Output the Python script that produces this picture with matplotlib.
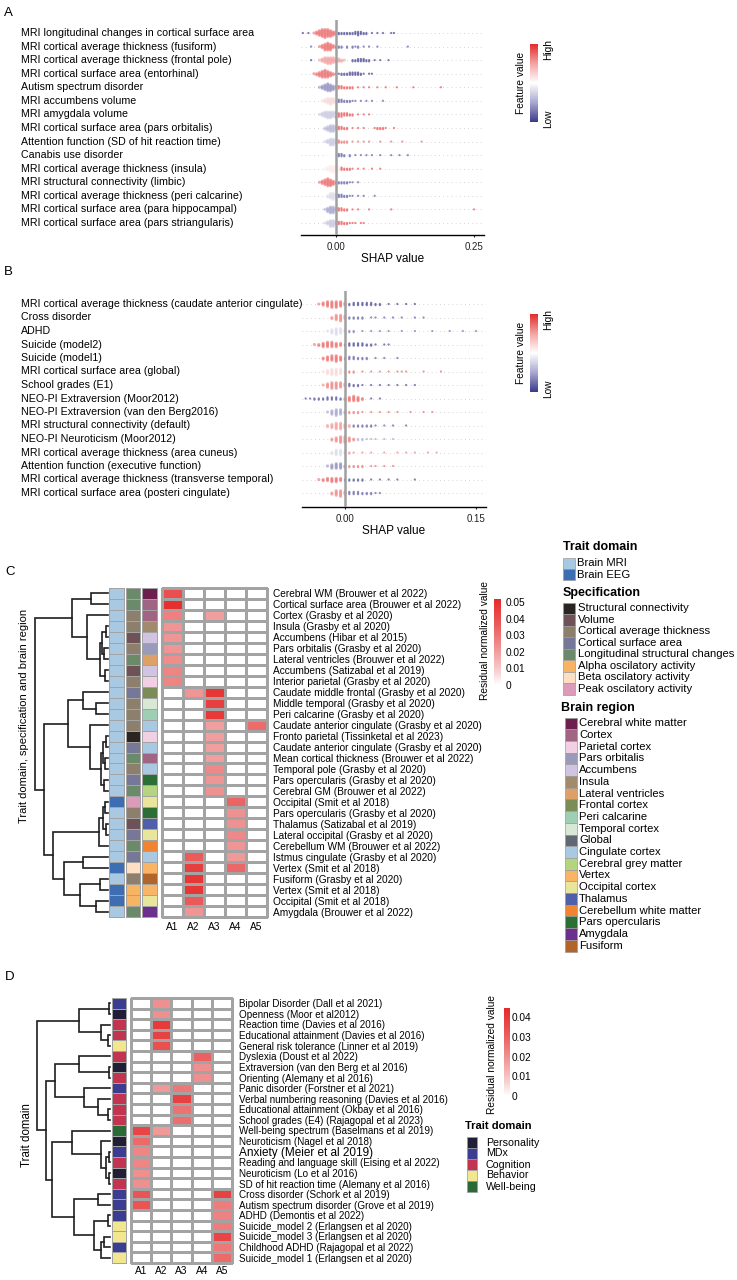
import numpy as np
import matplotlib
matplotlib.use("Agg")
import matplotlib.pyplot as plt
from matplotlib.colors import LinearSegmentedColormap, ListedColormap, Normalize
from matplotlib.cm import ScalarMappable
from matplotlib.patches import Rectangle
import matplotlib.transforms as mtransforms

plt.rcParams['font.family'] = ['Liberation Sans', 'DejaVu Sans']
NARROW = ['Liberation Sans Narrow', 'Liberation Sans', 'DejaVu Sans']

# ---------------- DATA ----------------
# panel A: SHAP beeswarm (value, count) per row; blob = dense core, tail = sparse dots
a_labels = ['MRI longitudinal changes in cortical surface area',
            'MRI cortical average thickness (fusiform)',
            'MRI cortical average thickness (frontal pole)',
            'MRI cortical surface area (entorhinal)',
            'Autism spectrum disorder',
            'MRI accumbens volume',
            'MRI amygdala volume',
            'MRI cortical surface area (pars orbitalis)',
            'Attention function (SD of hit reaction time)',
            'Canabis use disorder',
            'MRI cortical average thickness (insula)',
            'MRI structural connectivity (limbic)',
            'MRI cortical average thickness (peri calcarine)',
            'MRI cortical surface area (para hippocampal)',
            'MRI cortical surface area (pars striangularis)']
a_blob = [
    [(-0.04, 1), (-0.035, 3), (-0.03, 5), (-0.025, 7), (-0.02, 8), (-0.015, 7), (-0.01, 6), (-0.005, 4), (0.0, 3)],
    [(-0.03, 1), (-0.025, 3), (-0.02, 6), (-0.015, 7), (-0.01, 6), (-0.005, 3)],
    [(-0.03, 1), (-0.025, 3), (-0.02, 5), (-0.015, 6), (-0.01, 6), (-0.005, 5), (0.0, 4), (0.005, 3), (0.01, 2), (0.015, 1)],
    [(-0.04, 1), (-0.035, 2), (-0.03, 4), (-0.025, 6), (-0.02, 7), (-0.015, 6), (-0.01, 4), (-0.005, 2)],
    [(-0.03, 1), (-0.025, 3), (-0.02, 5), (-0.015, 7), (-0.01, 6), (-0.005, 4)],
    [(-0.025, 1), (-0.02, 3), (-0.015, 5), (-0.01, 6), (-0.005, 5), (0.0, 3)],
    [(-0.03, 1), (-0.025, 3), (-0.02, 5), (-0.015, 6), (-0.01, 6), (-0.005, 5), (0.0, 3)],
    [(-0.02, 2), (-0.015, 4), (-0.01, 6), (-0.005, 6), (0.0, 3)],
    [(-0.02, 1), (-0.015, 3), (-0.01, 6), (-0.005, 6), (0.0, 3)],
    [(-0.02, 1), (-0.015, 3), (-0.01, 5), (-0.005, 6), (0.0, 4)],
    [(-0.02, 1), (-0.015, 3), (-0.01, 5), (-0.005, 6), (0.0, 5), (0.005, 3)],
    [(-0.03, 1), (-0.025, 3), (-0.02, 5), (-0.015, 7), (-0.01, 6), (-0.005, 4)],
    [(-0.015, 2), (-0.01, 5), (-0.005, 6), (0.0, 3)],
    [(-0.02, 1), (-0.015, 4), (-0.01, 6), (-0.005, 6), (0.0, 3)],
    [(-0.02, 1), (-0.015, 3), (-0.01, 6), (-0.005, 6), (0.0, 3)]]
a_blob_fv = [0.85, 0.85, 0.75, 0.85, 0.2, 0.6, 0.35, 0.3, 0.35, 0.5, 0.55, 0.85, 0.4, 0.25, 0.35]
a_tail = [
    [(-0.06, 1), (-0.05, 1), (0.005, 2), (0.01, 2), (0.015, 2), (0.02, 2), (0.025, 2), (0.03, 2), (0.035, 3), (0.04, 4),
     (0.045, 3), (0.05, 2), (0.055, 2), (0.065, 1), (0.075, 1), (0.085, 1), (0.1, 1), (0.105, 1)],
    [(-0.045, 1), (0.0, 2), (0.005, 2), (0.01, 2), (0.02, 2), (0.03, 2), (0.035, 1), (0.04, 2), (0.05, 1), (0.06, 1),
     (0.075, 1), (0.13, 1)],
    [(-0.045, 1), (0.03, 2), (0.035, 2), (0.04, 3), (0.045, 3), (0.05, 3), (0.055, 2), (0.06, 2), (0.07, 1), (0.08, 1),
     (0.095, 1)],
    [(0.0, 1), (0.005, 1), (0.01, 2), (0.015, 2), (0.02, 2), (0.025, 3), (0.03, 3), (0.035, 3), (0.04, 3), (0.045, 2),
     (0.05, 1), (0.06, 1), (0.065, 1)],
    [(0.0, 3), (0.005, 3), (0.01, 3), (0.015, 2), (0.02, 2), (0.025, 2), (0.03, 2), (0.04, 1), (0.05, 1), (0.06, 1),
     (0.075, 1), (0.09, 1), (0.11, 1), (0.14, 1), (0.19, 1)],
    [(0.005, 3), (0.01, 3), (0.015, 2), (0.02, 2), (0.025, 2), (0.03, 1), (0.035, 1), (0.045, 1), (0.055, 1), (0.065, 1),
     (0.085, 1)],
    [(0.0, 3), (0.005, 4), (0.01, 4), (0.015, 3), (0.02, 3), (0.025, 2), (0.03, 2), (0.04, 1), (0.05, 1), (0.06, 1)],
    [(0.005, 3), (0.01, 3), (0.015, 2), (0.02, 2), (0.03, 1), (0.04, 1), (0.05, 1), (0.07, 1), (0.075, 2), (0.08, 2),
     (0.085, 2), (0.09, 1), (0.105, 1)],
    [(0.005, 3), (0.01, 2), (0.015, 2), (0.02, 2), (0.03, 1), (0.04, 1), (0.05, 1), (0.06, 1), (0.08, 1), (0.1, 1),
     (0.12, 1), (0.155, 1)],
    [(0.005, 3), (0.01, 3), (0.015, 2), (0.025, 2), (0.035, 1), (0.045, 1), (0.055, 1), (0.065, 1), (0.08, 1), (0.1, 1),
     (0.115, 1), (0.13, 1)],
    [(0.01, 3), (0.015, 2), (0.02, 2), (0.025, 2), (0.03, 1), (0.04, 1), (0.05, 1), (0.065, 1), (0.08, 1)],
    [(0.0, 2), (0.005, 2), (0.01, 2), (0.015, 2), (0.02, 2), (0.025, 1), (0.03, 1), (0.04, 1)],
    [(0.005, 3), (0.01, 3), (0.015, 2), (0.02, 2), (0.025, 1), (0.03, 1), (0.04, 1), (0.05, 1), (0.07, 1)],
    [(0.005, 3), (0.01, 3), (0.015, 2), (0.02, 2), (0.03, 1), (0.04, 1), (0.06, 1), (0.1, 1), (0.25, 1)],
    [(0.005, 3), (0.01, 3), (0.015, 2), (0.02, 2), (0.025, 1), (0.03, 1), (0.035, 1), (0.045, 1), (0.05, 1)]]
a_tail_fv = [0.1, 0.15, 0.1, 0.1, 0.85, 0.15, 0.85, 0.85, 0.8, 0.15, 0.85, 0.15, 0.15, 0.85, 0.85]

# panel B
b_labels = ['MRI cortical average thickness (caudate anterior cingulate)',
            'Cross disorder',
            'ADHD',
            'Suicide (model2)',
            'Suicide (model1)',
            'MRI cortical surface area (global)',
            'School grades (E1)',
            'NEO-PI Extraversion (Moor2012)',
            'NEO-PI Extraversion (van den Berg2016)',
            'MRI structural connectivity (default)',
            'NEO-PI Neuroticism (Moor2012)',
            'MRI cortical average thickness (area cuneus)',
            'Attention function (executive function)',
            'MRI cortical average thickness (transverse temporal)',
            'MRI cortical surface area (posteri cingulate)']
b_blob = [
    [(-0.03, 1), (-0.025, 3), (-0.02, 5), (-0.015, 6), (-0.01, 6), (-0.005, 5), (0.0, 3)],
    [(-0.015, 2), (-0.01, 5), (-0.005, 6), (0.0, 3)],
    [(-0.02, 1), (-0.015, 4), (-0.01, 6), (-0.005, 5), (0.0, 3)],
    [(-0.035, 1), (-0.03, 2), (-0.025, 4), (-0.02, 5), (-0.015, 5), (-0.01, 4), (-0.005, 3)],
    [(-0.025, 2), (-0.02, 4), (-0.015, 5), (-0.01, 6), (-0.005, 4)],
    [(-0.025, 1), (-0.02, 4), (-0.015, 6), (-0.01, 6), (-0.005, 5), (0.0, 2)],
    [(-0.025, 1), (-0.02, 4), (-0.015, 6), (-0.01, 6), (-0.005, 5), (0.0, 3)],
    [(0.0, 2), (0.005, 4), (0.01, 5), (0.015, 4), (0.02, 2)],
    [(-0.02, 1), (-0.015, 4), (-0.01, 6), (-0.005, 5), (0.0, 2)],
    [(-0.02, 2), (-0.015, 4), (-0.01, 6), (-0.005, 6), (0.0, 4), (0.005, 2)],
    [(-0.015, 2), (-0.01, 4), (-0.005, 6), (0.0, 6), (0.005, 4), (0.01, 2)],
    [(-0.015, 2), (-0.01, 5), (-0.005, 5), (0.0, 3)],
    [(-0.02, 1), (-0.015, 4), (-0.01, 5), (-0.005, 5), (0.0, 2)],
    [(-0.03, 1), (-0.025, 2), (-0.02, 3), (-0.015, 4), (-0.01, 4), (-0.005, 3)],
    [(-0.015, 2), (-0.01, 5), (-0.005, 6), (0.0, 3)]]
b_blob_fv = [0.85, 0.8, 0.4, 0.85, 0.85, 0.6, 0.8, 0.85, 0.25, 0.75, 0.8, 0.4, 0.2, 0.85, 0.8]
b_tail = [
    [(0.005, 2), (0.01, 3), (0.015, 3), (0.02, 3), (0.025, 3), (0.03, 3), (0.035, 2), (0.04, 2), (0.05, 1), (0.06, 1),
     (0.07, 1), (0.08, 1)],
    [(0.005, 2), (0.01, 2), (0.015, 2), (0.02, 2), (0.03, 1), (0.035, 1), (0.045, 1), (0.055, 1), (0.065, 1), (0.08, 1),
     (0.09, 1)],
    [(0.005, 2), (0.01, 2), (0.02, 1), (0.03, 1), (0.04, 1), (0.05, 1), (0.065, 1), (0.08, 1), (0.1, 1), (0.12, 1),
     (0.135, 1), (0.15, 1)],
    [(0.0, 2), (0.005, 3), (0.01, 3), (0.015, 3), (0.02, 3), (0.025, 2), (0.03, 2), (0.035, 1), (0.045, 1), (0.05, 1)],
    [(0.0, 2), (0.005, 3), (0.01, 3), (0.015, 2), (0.02, 2), (0.025, 2), (0.035, 1), (0.045, 1), (0.06, 1)],
    [(0.005, 2), (0.01, 2), (0.02, 1), (0.03, 1), (0.04, 1), (0.05, 1), (0.06, 1), (0.065, 1), (0.07, 1), (0.09, 1),
     (0.11, 1)],
    [(0.005, 3), (0.01, 2), (0.015, 2), (0.02, 1), (0.03, 1), (0.04, 1), (0.05, 1), (0.06, 1), (0.07, 1), (0.08, 1)],
    [(-0.045, 1), (-0.04, 1), (-0.035, 2), (-0.03, 2), (-0.025, 2), (-0.02, 3), (-0.015, 3), (-0.01, 3), (-0.005, 2),
     (0.03, 1), (0.04, 1)],
    [(0.005, 2), (0.01, 2), (0.015, 2), (0.02, 1), (0.03, 1), (0.04, 1), (0.05, 1), (0.06, 1), (0.075, 1), (0.09, 1),
     (0.1, 1)],
    [(0.01, 2), (0.015, 2), (0.02, 2), (0.025, 2), (0.03, 2), (0.035, 1), (0.045, 1), (0.055, 1), (0.07, 1)],
    [(0.015, 2), (0.02, 2), (0.025, 1), (0.03, 1), (0.035, 1), (0.045, 1), (0.055, 1)],
    [(0.005, 2), (0.01, 1), (0.02, 1), (0.03, 1), (0.045, 1), (0.06, 1), (0.07, 1), (0.08, 1), (0.095, 1), (0.105, 1)],
    [(0.005, 2), (0.01, 2), (0.015, 2), (0.02, 2), (0.03, 1), (0.035, 1), (0.045, 1), (0.055, 1)],
    [(0.0, 2), (0.005, 2), (0.01, 2), (0.015, 2), (0.02, 2), (0.03, 1), (0.04, 1), (0.05, 1), (0.06, 1), (0.08, 1)],
    [(0.005, 3), (0.01, 3), (0.015, 3), (0.02, 2), (0.025, 2), (0.03, 2), (0.035, 1), (0.04, 1)]]
b_tail_fv = [0.1, 0.15, 0.2, 0.1, 0.15, 0.8, 0.12, 0.12, 0.8, 0.15, 0.3, 0.75, 0.8, 0.12, 0.15]

# panel C: heatmap of residual normalized values
heat_cols = ['A1', 'A2', 'A3', 'A4', 'A5']
c_labels = ['Cerebral WM (Brouwer et al 2022)',
            'Cortical surface area (Brouwer et al 2022)',
            'Cortex (Grasby et al 2020)',
            'Insula (Grasby et al 2020)',
            'Accumbens (Hibar et al 2015)',
            'Pars orbitalis (Grasby et al 2020)',
            'Lateral ventricles (Brouwer et al 2022)',
            'Accumbens (Satizabal et al 2019)',
            'Interior parietal (Grasby et al 2020)',
            'Caudate middle frontal (Grasby et al 2020)',
            'Middle temporal (Grasby et al 2020)',
            'Peri calcarine (Grasby et al 2020)',
            'Caudate anterior cingulate (Grasby et al 2020)',
            'Fronto parietal (Tissinketal et al 2023)',
            'Caudate anterior cingulate (Grasby et al 2020)',
            'Mean cortical thickness (Brouwer et al 2022)',
            'Temporal pole (Grasby et al 2020)',
            'Pars opercularis (Grasby et al 2020)',
            'Cerebral GM (Brouwer et al 2022)',
            'Occipital (Smit et al 2018)',
            'Pars opercularis (Grasby et al 2020)',
            'Thalamus (Satizabal et al 2019)',
            'Lateral occipital (Grasby et al 2020)',
            'Cerebellum WM (Brouwer et al 2022)',
            'Istmus cingulate (Grasby et al 2020)',
            'Vertex (Smit et al 2018)',
            'Fusiform (Grasby et al 2020)',
            'Vertex (Smit et al 2018)',
            'Occipital (Smit et al 2018)',
            'Amygdala (Brouwer et al 2022)']
c_values = [[0.040, 0, 0, 0, 0], [0.050, 0, 0, 0, 0], [0.027, 0, 0.020, 0, 0], [0.022, 0, 0, 0, 0],
            [0.022, 0, 0, 0, 0], [0.022, 0, 0, 0, 0], [0.024, 0, 0, 0, 0], [0.026, 0, 0, 0, 0],
            [0.026, 0, 0, 0, 0], [0, 0.022, 0.048, 0, 0], [0, 0, 0.045, 0, 0], [0, 0, 0.047, 0, 0],
            [0, 0, 0.020, 0, 0.032], [0, 0, 0.020, 0, 0], [0, 0, 0.020, 0, 0], [0, 0, 0.020, 0, 0],
            [0, 0, 0.025, 0, 0], [0, 0, 0.022, 0, 0], [0, 0, 0.023, 0, 0], [0, 0, 0, 0.034, 0],
            [0, 0, 0, 0.023, 0], [0, 0, 0, 0.023, 0], [0, 0, 0, 0.025, 0], [0, 0, 0, 0.022, 0],
            [0, 0.036, 0, 0.021, 0], [0, 0.045, 0, 0.033, 0], [0, 0.048, 0, 0, 0], [0, 0.048, 0, 0, 0],
            [0, 0.037, 0, 0, 0], [0, 0.022, 0, 0, 0]]
c_domain = ['Brain MRI'] * 19 + ['Brain EEG'] + ['Brain MRI'] * 5 + ['Brain EEG', 'Brain MRI', 'Brain EEG',
                                                                       'Brain EEG', 'Brain MRI']
c_spec = ['Longitudinal structural changes', 'Longitudinal structural changes', 'Cortical average thickness',
          'Cortical average thickness', 'Volume', 'Cortical average thickness', 'Longitudinal structural changes',
          'Volume', 'Cortical average thickness', 'Cortical surface area', 'Cortical average thickness',
          'Cortical average thickness', 'Cortical average thickness', 'Structural connectivity',
          'Cortical surface area', 'Longitudinal structural changes', 'Cortical average thickness',
          'Cortical surface area', 'Longitudinal structural changes', 'Peak oscilatory activity',
          'Cortical average thickness', 'Volume', 'Cortical surface area', 'Longitudinal structural changes',
          'Cortical surface area', 'Beta oscilatory activity', 'Cortical average thickness',
          'Alpha oscilatory activity', 'Alpha oscilatory activity', 'Longitudinal structural changes']
c_region = ['Cerebral white matter', 'Cortex', 'Cortex', 'Insula', 'Accumbens', 'Pars orbitalis',
            'Lateral ventricles', 'Accumbens', 'Parietal cortex', 'Frontal cortex', 'Temporal cortex',
            'Peri calcarine', 'Cingulate cortex', 'Parietal cortex', 'Cingulate cortex', 'Cortex',
            'Cingulate cortex', 'Pars opercularis', 'Cerebral grey matter', 'Occipital cortex', 'Pars opercularis',
            'Thalamus', 'Occipital cortex', 'Cerebellum white matter', 'Cingulate cortex', 'Vertex', 'Fusiform',
            'Vertex', 'Occipital cortex', 'Amygdala']
# dendrogram: (left, right, height), leaves are row indices
c_tree = (((0, 1, 0.23), (2, (((3, 4, 0.03), (5, 6, 0.05), 0.08), (7, 8, 0.04), 0.11), 0.29), 0.50),
          (((9, (10, 11, 0.16), 0.34), (12, (((13, 14, 0.03), (15, 16, 0.04), 0.07), (17, 18, 0.05), 0.10), 0.25), 0.55),
           (((((19, 20, 0.04), (21, 22, 0.03), 0.07), 23, 0.12)),
            ((24, 25, 0.34), ((26, 27, 0.11), (28, 29, 0.16), 0.39), 0.60), 0.75), 0.87), 1.0)

# panel D
d_labels = ['Bipolar Disorder (Dall et al 2021)',
            'Openness (Moor et al2012)',
            'Reaction time (Davies et al 2016)',
            'Educational attainment (Davies et al 2016)',
            'General risk tolerance (Linner et al 2019)',
            'Dyslexia (Doust et al 2022)',
            'Extraversion (van den Berg et al 2016)',
            'Orienting (Alemany et al 2016)',
            'Panic disorder (Forstner et al 2021)',
            'Verbal numbering reasoning (Davies et al 2016)',
            'Educational attainment (Okbay et al 2016)',
            'School grades (E4) (Rajagopal et al 2023)',
            'Well-being spectrum (Baselmans et al 2019)',
            'Neuroticism (Nagel et al 2018)',
            'Anxiety (Meier et al 2019)',
            'Reading and language skill (Eising et al 2022)',
            'Neuroticism (Lo et al 2016)',
            'SD of hit reaction time (Alemany et al 2016)',
            'Cross disorder (Schork et al 2019)',
            'Autism spectrum disorder (Grove et al 2019)',
            'ADHD (Demontis et al 2022)',
            'Suicide_model 2 (Erlangsen et al 2020)',
            'Suicide_model 3 (Erlangsen et al 2020)',
            'Childhood ADHD (Rajagopal et al 2022)',
            'Suicide_model 1 (Erlangsen et al 2020)']
d_values = [[0, 0.02, 0, 0, 0], [0, 0.02, 0, 0, 0], [0, 0.04, 0, 0, 0], [0, 0.038, 0, 0, 0], [0, 0.034, 0, 0, 0],
            [0, 0, 0, 0.03, 0], [0, 0, 0, 0.02, 0], [0, 0, 0, 0.02, 0], [0, 0.018, 0.025, 0, 0],
            [0, 0, 0.038, 0, 0], [0, 0, 0.026, 0, 0], [0, 0, 0.027, 0, 0], [0.037, 0.018, 0, 0, 0],
            [0.028, 0, 0, 0, 0], [0.022, 0, 0, 0, 0], [0.022, 0, 0, 0, 0], [0.02, 0, 0, 0, 0], [0.02, 0, 0, 0, 0],
            [0.033, 0, 0, 0, 0.038], [0.033, 0, 0, 0, 0.024], [0, 0, 0, 0, 0.023], [0, 0, 0, 0, 0.024],
            [0, 0, 0, 0, 0.037], [0, 0, 0, 0, 0.025], [0, 0, 0, 0, 0.028]]
d_domain = ['MDx', 'Personality', 'Cognition', 'Cognition', 'Behavior', 'Cognition', 'Personality', 'Cognition',
            'MDx', 'Cognition', 'Cognition', 'Cognition', 'Well-being', 'Personality', 'MDx', 'Cognition',
            'Personality', 'Cognition', 'MDx', 'MDx', 'MDx', 'Behavior', 'Behavior', 'MDx', 'Behavior']
d_tree = (((0, 1, 0.02), (2, (3, 4, 0.03), 0.12), 0.42),
          (((5, (6, 7, 0.02), 0.42), (8, (9, (10, 11, 0.03), 0.16), 0.35), 0.75),
           ((12, (13, ((14, 15, 0.02), (16, 17, 0.02), 0.05), 0.12), 0.52),
            ((18, 19, 0.16), ((20, 21, 0.03), ((22, 23, 0.08), 24, 0.12), 0.22), 0.50), 0.80), 0.88), 1.0)

# ---------------- STYLES ----------------
c_domain_pal = {'Brain MRI': '#a9c9e2', 'Brain EEG': '#3d6db2'}
c_spec_pal = {'Structural connectivity': '#2a2522', 'Volume': '#6f5258', 'Cortical average thickness': '#8c806d',
              'Cortical surface area': '#777897', 'Longitudinal structural changes': '#6a8a6a',
              'Alpha oscilatory activity': '#f7b462', 'Beta oscilatory activity': '#fde0c4',
              'Peak oscilatory activity': '#dc9bb8'}
c_region_pal = {'Cerebral white matter': '#6d1f4f', 'Cortex': '#a06582', 'Parietal cortex': '#f0d0e2',
                'Pars orbitalis': '#9a9bbb', 'Accumbens': '#d0c4e2', 'Insula': '#a28b6d',
                'Lateral ventricles': '#dda066', 'Frontal cortex': '#7b8c57', 'Peri calcarine': '#9ecfb4',
                'Temporal cortex': '#d9e8d4', 'Global': '#5f6873', 'Cingulate cortex': '#a9c9e2',
                'Cerebral grey matter': '#b3d57f', 'Vertex': '#f9b466', 'Occipital cortex': '#e9e69c',
                'Thalamus': '#4f5fa9', 'Cerebellum white matter': '#f18430', 'Pars opercularis': '#2c6f36',
                'Amygdala': '#6b2f8d', 'Fusiform': '#b2652b'}
d_domain_pal = {'Personality': '#211f36', 'MDx': '#3b3d91', 'Cognition': '#c2344f', 'Behavior': '#f2e68e',
                'Well-being': '#2a6a36'}

shap_cmap = LinearSegmentedColormap.from_list('fv', ['#3b3a8c', '#a9a8d0', '#ffffff', '#f3a3a3', '#e32b2b'])
heat_cmap = LinearSegmentedColormap.from_list('res', [(0, '#ffffff'), (0.15, '#f8d2d2'), (0.4, '#f09a9a'),
                                                      (0.7, '#ea5b5b'), (1, '#e52a2a')])
GRID = '#a3a3a3'

W, H = 737, 1280
fig = plt.figure(figsize=(W / 100, H / 100), dpi=100)


def px_axes(x0, y0, x1, y1):
    return fig.add_axes([x0 / W, 1 - y1 / H, (x1 - x0) / W, (y1 - y0) / H])


lax = px_axes(0, 0, W, H)
lax.set_xlim(0, W)
lax.set_ylim(H, 0)
lax.axis('off')


def stack(rows, fvs, used_all):
    xs, ys, cs = [], [], []
    for i, pts in enumerate(rows):
        used = used_all.setdefault(i, {})
        for v, n in pts:
            for _ in range(n):
                k = used.get(v, 0)
                used[v] = k + 1
                off = ((k + 1) // 2) * 0.085 * (1 if k % 2 else -1)
                xs.append(v)
                ys.append(i + off)
                cs.append(fvs[i])
    return xs, ys, cs


def swarm_panel(box, row0, dy, labels, blobs, blob_fv, tails, tail_fv, xlim, ticks, ticklabels, cbox):
    ax = px_axes(*box)
    for i in range(len(labels)):
        ax.axhline(i, color='#c8c8c8', lw=0.6, dashes=(1, 4), zorder=0)
    used = {}
    xs, ys, cs = stack(blobs, blob_fv, used)
    ax.scatter(xs, ys, c=cs, cmap=shap_cmap, vmin=0, vmax=1, s=5, linewidths=0, alpha=0.6, zorder=2)
    xs, ys, cs = stack(tails, tail_fv, used)
    ax.scatter(xs, ys, c=cs, cmap=shap_cmap, vmin=0, vmax=1, s=2.6, linewidths=0, alpha=0.85, zorder=2)
    ax.axvline(0, color='#a0a0a0', lw=1.8, zorder=3)
    ax.set_xlim(*xlim)
    ax.set_ylim((box[3] - row0) / dy, (box[1] - row0) / dy)
    for s in ['top', 'right', 'left']:
        ax.spines[s].set_visible(False)
    ax.spines['bottom'].set_linewidth(1.0)
    ax.set_yticks([])
    ax.set_xticks(ticks)
    ax.set_xticklabels(ticklabels)
    ax.tick_params(axis='x', length=1.5, pad=3.5, labelsize=7, colors='#222222')
    ax.set_xlabel('SHAP value', fontsize=8.5, labelpad=0.5)
    trans = mtransforms.blended_transform_factory(fig.transFigure, ax.transData)
    for i, lab in enumerate(labels):
        ax.text(21 / W, i, lab, transform=trans, ha='left', va='center', fontsize=7.7, clip_on=False)
    cax = px_axes(*cbox)
    cb = fig.colorbar(ScalarMappable(Normalize(0, 1), shap_cmap), cax=cax)
    cb.set_ticks([])
    cb.outline.set_visible(False)
    lax.text(cbox[2] + 10, cbox[1] + 5, 'High', rotation=90, ha='center', va='center', fontsize=7.3)
    lax.text(cbox[2] + 10, cbox[3] - 3, 'Low', rotation=90, ha='center', va='center', fontsize=7.3)
    lax.text(cbox[0] - 9, (cbox[1] + cbox[3]) / 2, 'Feature value', rotation=90, ha='center', va='center',
             fontsize=7.3)


swarm_panel((301, 20, 484, 235), 33, 13.57, a_labels, a_blob, a_blob_fv, a_tail, a_tail_fv,
            (-0.0634, 0.268), [0, 0.25], ['0.00', '0.25'], (530, 44, 538, 122))
swarm_panel((302, 291, 486, 507), 304, 13.5, b_labels, b_blob, b_blob_fv, b_tail, b_tail_fv,
            (-0.0492, 0.1615), [0, 0.15], ['0.00', '0.15'], (530, 314, 538, 392))


def dendro(box, tree, n):
    ax = px_axes(*box)

    def walk(node):
        if isinstance(node, int):
            return node + 0.5, 0.0
        left, right, h = node
        y1, h1 = walk(left)
        y2, h2 = walk(right)
        ax.plot([h1, h, h, h2], [y1, y1, y2, y2], color='#1e1e1e', lw=1.2, clip_on=False,
                solid_joinstyle='miter')
        return (y1 + y2) / 2, h

    walk(tree)
    ax.set_xlim(1.0, 0)
    ax.set_ylim(n, 0)
    ax.axis('off')


def annot(box, cats, pal):
    ax = px_axes(*box)
    names = list(pal.keys())
    idx = np.array([names.index(c) for c in cats]).reshape(-1, 1)
    m = ax.pcolormesh(idx, cmap=ListedColormap([pal[k] for k in names]), vmin=-0.5, vmax=len(names) - 0.5,
                      edgecolors=GRID, linewidth=0.6)
    m.set_clip_on(False)
    ax.set_ylim(len(cats), 0)
    ax.axis('off')


def heat(box, vals, vmax, labels, fs, pad, xpad, family=None):
    ax = px_axes(*box)
    n = len(vals)
    m = ax.pcolormesh(np.array(vals), cmap=heat_cmap, vmin=0, vmax=vmax, edgecolors=GRID, linewidth=0.8)
    m.set_clip_on(False)
    ax.set_xlim(0, 5)
    ax.set_ylim(n, 0)
    for s in ax.spines.values():
        s.set_visible(False)
    ax.set_xticks(np.arange(5) + 0.5)
    ax.set_xticklabels(heat_cols)
    ax.set_yticks(np.arange(n) + 0.5)
    ax.set_yticklabels(labels)
    ax.tick_params(axis='x', length=0, labelsize=7.3, pad=xpad)
    ax.tick_params(axis='y', left=False, labelleft=False, right=False, labelright=True, length=0, pad=pad,
                   labelsize=fs)
    if family:
        for t in ax.get_yticklabels():
            t.set_family(family)
    return ax


def heat_cbar(box, vmax, ticks, labels, pad):
    cax = px_axes(*box)
    cb = fig.colorbar(ScalarMappable(Normalize(0, vmax), heat_cmap), cax=cax)
    cb.outline.set_visible(False)
    cb.set_ticks(ticks)
    cb.set_ticklabels(labels)
    cax.tick_params(length=0, pad=pad, labelsize=7.3)


def legend_block(title, tx, ty, names, pal, sx, sy, sw, sh, lx, fs, family=None, tfs=9):
    lax.text(tx, ty, title, fontsize=tfs, fontweight='bold', ha='left', va='center')
    for k, nm in enumerate(names):
        lax.add_patch(Rectangle((sx, sy + k * sh), sw, sh, facecolor=pal[nm], edgecolor='#9a9a9a', lw=0.5))
        lax.text(lx, sy + (k + 0.5) * sh, nm, fontsize=fs, ha='left', va='center', family=family)


# ---- panel C ----
dendro((35, 588, 108, 917), c_tree, len(c_labels))
annot((109, 588, 124, 917), c_domain, c_domain_pal)
annot((126, 588, 140, 917), c_spec, c_spec_pal)
annot((142, 588, 157, 917), c_region, c_region_pal)
heat((162, 588, 267, 917), c_values, 0.0518, c_labels, 7.3, 4.3, 3.6)
heat_cbar((494, 599, 501, 685), 0.0518, [0, 0.01, 0.02, 0.03, 0.04, 0.05],
          ['0', '0.01', '0.02', '0.03', '0.04', '0.05'], 3)
lax.text(485, 640, 'Residual normalized value', rotation=90, ha='center', va='center', fontsize=7.3)
lax.text(24, 716, 'Trait domain, specification and brain region', rotation=90, ha='center', va='center',
         fontsize=8)
legend_block('Trait domain', 563, 547, list(c_domain_pal), c_domain_pal, 563, 558, 12, 11, 577, 8.1)
legend_block('Specification', 563, 593, list(c_spec_pal), c_spec_pal, 563, 602.5, 12, 11.5, 578, 8.1)
legend_block('Brain region', 561, 708, list(c_region_pal), c_region_pal, 565, 717.5, 12, 11.7, 579, 8.1)

# ---- panel D ----
dendro((37, 998, 110, 1263), d_tree, len(d_labels))
annot((112, 998, 126, 1263), d_domain, d_domain_pal)
hd = heat((131, 998, 232, 1263), d_values, 0.0446, d_labels, 7.1, 5, 2.5, family=NARROW)
hd.get_yticklabels()[14].set_fontsize(8.5)
heat_cbar((504, 1008, 510, 1096), 0.0446, [0, 0.01, 0.02, 0.03, 0.04], ['0', '0.01', '0.02', '0.03', '0.04'], 1.5)
lax.text(492, 1054, 'Residual normalized value', rotation=90, ha='center', va='center', fontsize=7.3)
lax.text(27, 1135, 'Trait domain', rotation=90, ha='center', va='center', fontsize=8.3)
legend_block('Trait domain', 465, 1126, list(d_domain_pal), d_domain_pal, 467, 1137, 10, 11, 486, 7.7,
             family=NARROW, tfs=8)

# panel letters
for letter, x, y in [('A', 4, 13), ('B', 4, 272), ('C', 5, 572), ('D', 5, 977)]:
    lax.text(x, y, letter, fontsize=9.5, ha='left', va='center')

fig.savefig('out.png', dpi=100)
